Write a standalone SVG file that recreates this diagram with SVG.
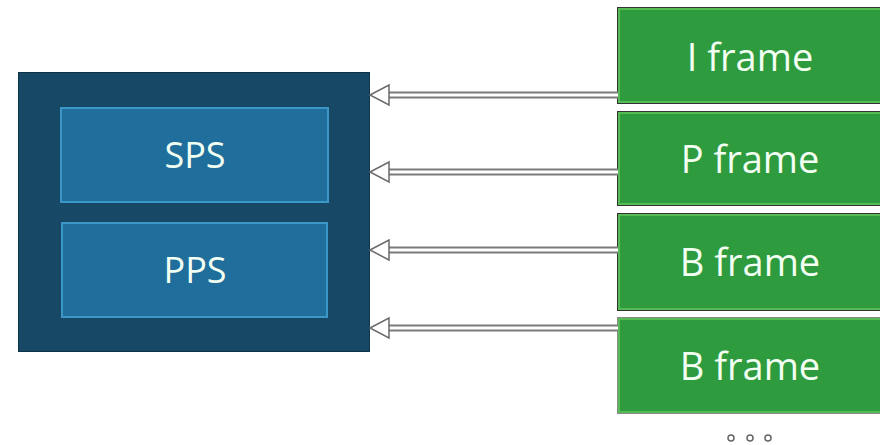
<svg xmlns="http://www.w3.org/2000/svg" width="880" height="445" viewBox="0 0 880 445">
<style>
.lbl{font-family:"Open Sans","Noto Sans",sans-serif;fill:#f2fff2;text-anchor:middle}
.ps{fill:#1f6e9b;stroke:#3d96c8;stroke-width:2}
.fr{fill:#2f9b3f;stroke:#55bb55;stroke-width:2}
.frout{fill:none;stroke:#2a4a2a;stroke-width:1}
.shaft-o{stroke:#7a7a7a;stroke-width:7;fill:none}
.shaft-i{stroke:#ffffff;stroke-width:3;fill:none}
.head{fill:#ffffff;stroke:#6a6a6a;stroke-width:1.5;stroke-linejoin:miter}
</style>
<rect width="880" height="445" fill="#ffffff"/>
<g id="container">
<rect x="18.5" y="72.5" width="351" height="279" fill="#174966" stroke="#0f3348" stroke-width="1"/>
</g>
<g id="sps">
<rect class="ps" x="61" y="108" width="267" height="94"/>
<text class="lbl" x="195" y="168" font-size="36">SPS</text>
</g>
<g id="pps">
<rect class="ps" x="62" y="223" width="265" height="94"/>
<text class="lbl" x="195" y="283" font-size="36">PPS</text>
</g>
<g id="iframe">
<rect x="617.5" y="7.5" width="270" height="96" fill="#2f9b3f" stroke="#333" stroke-width="1"/>
<rect class="fr" x="619" y="9" width="270" height="93"/>
<text class="lbl" x="750" y="71" font-size="38">I frame</text>
</g>
<g id="pframe">
<rect x="617.5" y="111.5" width="270" height="94" fill="#2f9b3f" stroke="#333" stroke-width="1"/>
<rect class="fr" x="619" y="113" width="270" height="91"/>
<text class="lbl" x="750" y="173" font-size="38">P frame</text>
</g>
<g id="bframe1">
<rect x="617.5" y="213.5" width="270" height="97" fill="#2f9b3f" stroke="#333" stroke-width="1"/>
<rect class="fr" x="619" y="215" width="270" height="94"/>
<text class="lbl" x="750" y="276" font-size="38">B frame</text>
</g>
<g id="bframe2">
<rect x="617.5" y="317.5" width="270" height="96" fill="#2f9b3f" stroke="#888" stroke-width="1"/>
<rect class="fr" x="619" y="319" width="270" height="93"/>
<text class="lbl" x="750" y="380" font-size="38">B frame</text>
</g>
<g id="connectors">
<path class="shaft-o" d="M388 95H618M388 172H618M388 250H618M388 328H618"/>
<path class="shaft-i" d="M386 95H618M386 172H618M386 250H618M386 328H618"/>
<polygon class="head" points="370,95 389,85 389,105"/>
<polygon class="head" points="370,172 389,162 389,182"/>
<polygon class="head" points="370,250 389,240 389,260"/>
<polygon class="head" points="370,328 389,318 389,338"/>
</g>
<g id="ellipsis" fill="none" stroke="#666" stroke-width="1.5">
<circle cx="731" cy="438" r="3"/>
<circle cx="750" cy="438" r="3"/>
<circle cx="768" cy="438" r="3"/>
</g>
</svg>
